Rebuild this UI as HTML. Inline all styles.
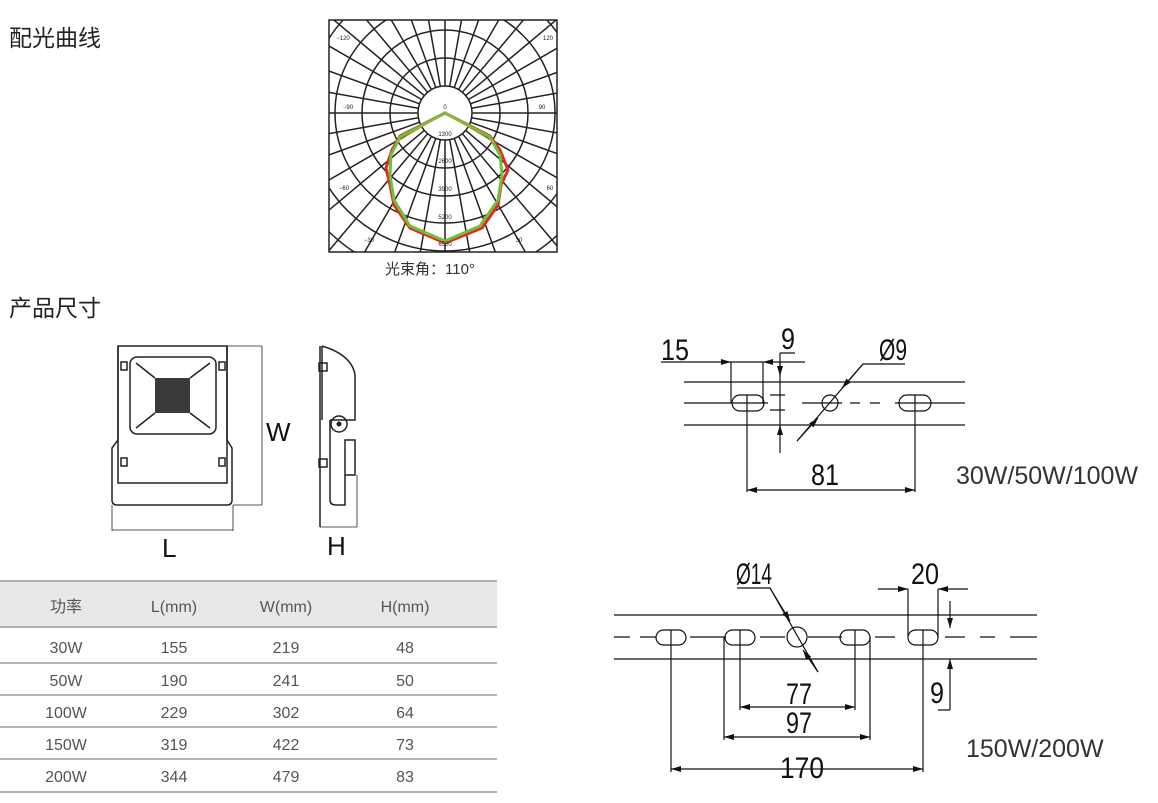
<!DOCTYPE html>
<html><head><meta charset="utf-8"><style>
body{margin:0;background:#fff;width:1158px;height:803px;overflow:hidden;font-family:"Liberation Sans","Noto Sans CJK SC",sans-serif}
svg{position:absolute;left:0;top:0}
</style></head><body>
<svg width="1158" height="803" viewBox="0 0 1158 803">
<defs>
<clipPath id="pc"><rect x="329" y="20" width="228" height="232"/></clipPath>
<marker id="ar" viewBox="0 0 10 6" refX="10" refY="3" markerWidth="10" markerHeight="6" orient="auto-start-reverse" markerUnits="userSpaceOnUse"><path d="M0,0L10,3L0,6z" fill="#111"/></marker>
</defs>
<style>
.t{font-family:"Liberation Sans","Noto Sans CJK SC",sans-serif}
.h{font-size:23px;fill:#222}
.n{font-size:30px;fill:#111}
.tb{font-size:16px;fill:#555;text-anchor:middle}
.d{stroke:#111;stroke-width:1.2;fill:none}
</style>
<text class="t h" x="9" y="46">配光曲线</text>
<text class="t h" x="9" y="316">产品尺寸</text>

<!-- polar -->
<g clip-path="url(#pc)" stroke="#222" stroke-width="1.5" fill="none">
<circle cx="445" cy="113" r="27"/><circle cx="445" cy="113" r="55"/><circle cx="445" cy="113" r="83"/><circle cx="445" cy="113" r="110"/><circle cx="445" cy="113" r="138"/><circle cx="445" cy="113" r="166"/><circle cx="445" cy="113" r="194"/>
<path d="M445,86V20M445,140V252M418,113H329M472,113H557"/>
<path d="M445,113 m26.6,4.7 L642,148 M445,113 m25.4,9.2 L633,181 M445,113 m23.4,13.5 L618,213 M445,113 m20.7,17.4 L598,241 M445,113 m17.4,20.7 L574,266 M445,113 m13.5,23.4 L545,286 M445,113 m9.2,25.4 L513,301 M445,113 m4.7,26.6 L480,310
M445,113 m-26.6,4.7 L248,148 M445,113 m-25.4,9.2 L257,181 M445,113 m-23.4,13.5 L272,213 M445,113 m-20.7,17.4 L292,241 M445,113 m-17.4,20.7 L316,266 M445,113 m-13.5,23.4 L345,286 M445,113 m-9.2,25.4 L377,301 M445,113 m-4.7,26.6 L410,310
M445,113 m26.6,-4.7 L642,78 M445,113 m25.4,-9.2 L633,45 M445,113 m23.4,-13.5 L618,13 M445,113 m20.7,-17.4 L598,-15 M445,113 m17.4,-20.7 L574,-40 M445,113 m13.5,-23.4 L545,-60 M445,113 m9.2,-25.4 L513,-75 M445,113 m4.7,-26.6 L480,-84
M445,113 m-26.6,-4.7 L248,78 M445,113 m-25.4,-9.2 L257,45 M445,113 m-23.4,-13.5 L272,13 M445,113 m-20.7,-17.4 L292,-15 M445,113 m-17.4,-20.7 L316,-40 M445,113 m-13.5,-23.4 L345,-60 M445,113 m-9.2,-25.4 L377,-75 M445,113 m-4.7,-26.6 L410,-84"/>
</g>
<rect x="329" y="20" width="228" height="232" fill="none" stroke="#222" stroke-width="1.5"/>
<path d="M445,113 L400,136 L392,150 L386,168 L390,185 L394,205 L410,228 L445,243 L482,228 L498,205 L501,185 L508,170 L500,150 L490,136 Z" fill="none" stroke="#e52a20" stroke-width="3"/>
<path d="M445,113 L400,137 L391,155 L390,175 L394,200 L410,226 L445,241 L480,226 L498,200 L502,175 L500,155 L490,137 Z" fill="none" stroke="#6fbe3c" stroke-width="3"/>
<path d="M445,113 L395,143 M445,113 L495,143" stroke="#b8a040" stroke-width="1"/>
<g class="t" font-size="6" fill="#222" text-anchor="middle">
<text x="343" y="40">−120</text><text x="548" y="40">120</text><text x="348" y="109">−90</text><text x="542" y="109">90</text>
<text x="344" y="190">−60</text><text x="550" y="190">60</text><text x="369" y="242">−30</text><text x="519" y="242">30</text>
<text x="445" y="109">0</text><text x="445" y="136">1300</text><text x="445" y="163">2600</text><text x="445" y="191">3900</text><text x="445" y="219">5200</text><text x="445" y="246">6500</text>
</g>
<text class="t" x="385" y="274" font-size="15" fill="#333">光束角：110°</text>

<!-- front view -->
<g stroke="#222" stroke-width="1.5" fill="none">
<path d="M118,346 H227 V440 L232,448 V500 Q232,505 227,505 H117 Q112,505 112,500 V448 L118,440 Z"/>
<path d="M118,346 V483 H227 V346"/>
<rect x="130" y="357" width="86" height="77" rx="7"/>
<path d="M155,378 L136,363 M190,378 L210,363 M155,413 L136,428 M190,413 L210,428"/>
<rect x="121" y="362" width="6" height="8"/><rect x="219" y="362" width="6" height="8"/><rect x="121" y="458" width="6" height="8"/><rect x="219" y="458" width="6" height="8"/>
<path d="M227,346 H262 M262,346 V505 M233,505 H262 M112,505 V531 M233,505 V531 M112,530 H233" stroke-width="0.8"/>
</g>
<rect x="155" y="378" width="35" height="35" fill="#3a3a3a"/>
<text class="t" x="266" y="441" font-size="26" fill="#111">W</text>
<text class="t" x="162" y="557" font-size="26" fill="#111">L</text>
<!-- side view -->
<g stroke="#222" stroke-width="1.5" fill="none">
<path d="M320,346 V527 M322,346 V420 M322,346 Q352,355 355,375 V420 L330,420"/>
<path d="M330,420 V500 Q330,505 336,505 H345 V440 H355 V475 H345"/>
<circle cx="339" cy="424" r="8"/>
<rect x="319" y="363" width="8" height="8"/><rect x="319" y="459" width="8" height="8"/>
<path d="M320,527 H357 M357,475 V527" stroke-width="0.8"/>
</g>
<circle cx="339" cy="424" r="2.5" fill="#222"/>
<text class="t" x="327" y="555" font-size="26" fill="#111">H</text>

<!-- table -->
<rect x="0" y="581" width="497" height="46" fill="#e8e8ea"/>
<g stroke="#999" stroke-width="1.5"><path d="M0,581H497M0,627H497M0,663H497M0,695H497M0,727H497M0,759H497M0,792H497"/></g>
<g class="t tb">
<text x="66" y="612">功率</text><text x="174" y="612">L(mm)</text><text x="286" y="612">W(mm)</text><text x="405" y="612">H(mm)</text>
<text x="66" y="653">30W</text><text x="174" y="653">155</text><text x="286" y="653">219</text><text x="405" y="653">48</text>
<text x="66" y="686">50W</text><text x="174" y="686">190</text><text x="286" y="686">241</text><text x="405" y="686">50</text>
<text x="66" y="718">100W</text><text x="174" y="718">229</text><text x="286" y="718">302</text><text x="405" y="718">64</text>
<text x="66" y="750">150W</text><text x="174" y="750">319</text><text x="286" y="750">422</text><text x="405" y="750">73</text>
<text x="66" y="782">200W</text><text x="174" y="782">344</text><text x="286" y="782">479</text><text x="405" y="782">83</text>
</g>

<!-- drawing 1 -->
<g class="d">
<path d="M684,382H965 M684,425H965 M684,403H768 M802,403H842 M850,403H860 M870,403H880 M895,403H965"/>
<rect x="732" y="395" width="32" height="16" rx="8"/><rect x="899" y="395" width="32" height="16" rx="8"/>
<circle cx="830" cy="403" r="8"/>
<path d="M747,395V492 M915,395V492 M731,362V403 M763,362V403 M770,395H785 M770,410H785"/>
<path d="M661,362H731" marker-end="url(#ar)"/><path d="M805,362H763" marker-end="url(#ar)"/><path d="M731,362H763"/>
<path d="M780,353H795 M780,353V376"/>
<path d="M780,362V376" marker-end="url(#ar)"/><path d="M780,453V425" marker-end="url(#ar)"/><path d="M780,376V425"/>
<path d="M905,364H863L797,441"/>
<path d="M863,364L842,388" marker-end="url(#ar)"/><path d="M797,441L818,418" marker-end="url(#ar)"/>
<path d="M747,490H915" marker-start="url(#ar)" marker-end="url(#ar)"/>
</g>
<g class="t n"><text x="661" y="360" textLength="28" lengthAdjust="spacingAndGlyphs">15</text><text x="781" y="349" textLength="14" lengthAdjust="spacingAndGlyphs">9</text>
<text x="879" y="360" textLength="28" lengthAdjust="spacingAndGlyphs">Ø9</text><text x="811" y="485" textLength="28" lengthAdjust="spacingAndGlyphs">81</text></g>
<text class="t" x="956" y="484" font-size="25" fill="#333">30W/50W/100W</text>

<!-- drawing 2 -->
<g class="d">
<path d="M614,615H1037 M614,659H1037 M614,637H630 M640,637H656 M690,637H726 M760,637H785 M808,637H842 M875,637H895 M945,637H965 M980,637H995 M1010,637H1037"/>
<rect x="656" y="630" width="30" height="15" rx="7.5"/><rect x="725" y="630" width="30" height="15" rx="7.5"/><rect x="840" y="630" width="30" height="15" rx="7.5"/><rect x="908" y="630" width="30" height="15" rx="7.5"/>
<circle cx="797" cy="637" r="10"/>
<path d="M671,630V772 M923,630V772 M740,630V710 M855,630V710 M724,637V740 M870,637V740 M908,589V637 M938,589V637 M938,710H950"/>
<path d="M737,588H770L818,672"/>
<path d="M770,588L790,621" marker-end="url(#ar)"/><path d="M818,672L803,650" marker-end="url(#ar)"/>
<path d="M878,589H908" marker-end="url(#ar)"/><path d="M968,589H938" marker-end="url(#ar)"/>
<path d="M950,601V628" marker-end="url(#ar)"/><path d="M950,710V659" marker-end="url(#ar)"/>
<path d="M740,707H855" marker-start="url(#ar)" marker-end="url(#ar)"/>
<path d="M724,737H870" marker-start="url(#ar)" marker-end="url(#ar)"/>
<path d="M671,769H923" marker-start="url(#ar)" marker-end="url(#ar)"/>
</g>
<g class="t n"><text x="736" y="584" textLength="36" lengthAdjust="spacingAndGlyphs">Ø14</text><text x="911" y="584" textLength="28" lengthAdjust="spacingAndGlyphs">20</text>
<text x="930" y="703" textLength="14" lengthAdjust="spacingAndGlyphs">9</text>
<text x="786" y="704" textLength="26" lengthAdjust="spacingAndGlyphs">77</text><text x="786" y="733" textLength="26" lengthAdjust="spacingAndGlyphs">97</text>
<text x="780" y="778" textLength="44" lengthAdjust="spacingAndGlyphs">170</text></g>
<text class="t" x="966" y="757" font-size="25" fill="#333">150W/200W</text>
</svg>
</body></html>
